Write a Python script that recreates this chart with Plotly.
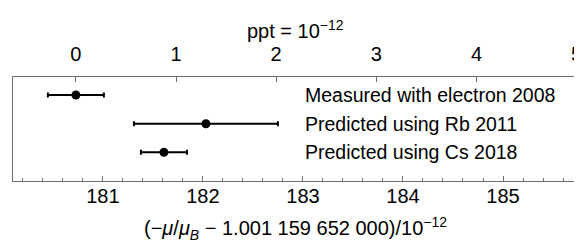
import plotly.graph_objects as go

# Data
labels = ["Measured with electron 2008", "Predicted using Rb 2011", "Predicted using Cs 2018"]
values = [180.73, 182.03, 181.61]          # (-mu/mu_B - 1.001 159 652 000)/1e-12
errors = [0.28, 0.72, 0.23]
rows = [3, 2, 1]
bottom_ticks = [181, 182, 183, 184, 185]
top_ticks = [0, 1, 2, 3, 4, 5]
minor_ticks = [180.2, 180.4, 180.6, 180.8, 181.2, 181.4, 181.6, 181.8, 182.2, 182.4, 182.6, 182.8,
               183.2, 183.4, 183.6, 183.8, 184.2, 184.4, 184.6, 184.8, 185.2, 185.4, 185.6]

ref = values[0]
ppt_unit = 1.00115965  # 1 ppt in units of 1e-12 of mu/mu_B
top_range = [-0.628, 5.004]
bottom_range = [ref + ppt_unit * top_range[0], ref + ppt_unit * top_range[1]]

# page body has an 8px margin; figure sized to fill the rest of the 582x240 window
W, H = 574, 232
ML, MR, MT, MB = 5, 0, 69, 59
FONT = "Liberation Sans, Arial, Helvetica, sans-serif"
AXC = "#6e6e6e"

fig = go.Figure()
fig.add_trace(go.Scatter(
    x=values, y=rows, mode="markers",
    marker=dict(color="black", size=9),
    error_x=dict(type="data", array=errors, visible=True, color="black", thickness=2, width=2.5),
    showlegend=False, xaxis="x", yaxis="y", cliponaxis=False,
))
# invisible trace to activate top axis
fig.add_trace(go.Scatter(x=top_range, y=[0, 0], mode="markers", marker=dict(opacity=0),
                         showlegend=False, xaxis="x2", yaxis="y", hoverinfo="skip"))

for lab, r in zip(labels, rows):
    fig.add_annotation(x=183.0, y=r, xref="x", yref="y", text=lab, showarrow=False,
                       xanchor="left", yanchor="middle",
                       font=dict(family=FONT, size=19.5, color="black"))

fig.add_annotation(x=0.5, y=1, xref="paper", yref="paper", yshift=33, text="ppt = 10<sup>\u221212</sup>",
                   showarrow=False, xanchor="center", yanchor="bottom",
                   font=dict(family=FONT, size=20, color="black"))
fig.add_annotation(x=0.5, y=0, xref="paper", yref="paper", yshift=-31,
                   text="(\u2212<i>\u03bc</i>/<i>\u03bc<sub>B</sub></i> \u2212 1.001 159 652 000)/10<sup>\u221212</sup>",
                   showarrow=False, xanchor="center", yanchor="top",
                   font=dict(family=FONT, size=20, color="black"))

fig.update_layout(
    width=W, height=H, autosize=False,
    margin=dict(l=ML, r=MR, t=MT, b=MB, pad=0),
    plot_bgcolor="white", paper_bgcolor="white",
    font=dict(family=FONT, size=20, color="black"),
    xaxis=dict(range=bottom_range, tickvals=bottom_ticks, ticks="inside", ticklen=5, tickwidth=1,
               tickcolor=AXC, showline=True, linecolor=AXC, linewidth=1, showgrid=False, zeroline=False,
               tickfont=dict(family=FONT, size=20, color="black"), ticklabelstandoff=-3,
               minor=dict(tickvals=minor_ticks, ticks="inside", ticklen=3, tickcolor=AXC, showgrid=False)),
    xaxis2=dict(range=top_range, tickvals=top_ticks, overlaying="x", side="top", anchor="y",
                ticks="inside", ticklen=5, tickwidth=1, tickcolor=AXC, showline=True, linecolor=AXC,
                linewidth=1, showgrid=False, zeroline=False, ticklabelstandoff=7,
                ticklabeloverflow="allow",
                tickfont=dict(family=FONT, size=20, color="black")),
    yaxis=dict(range=[0, 3.63], showticklabels=False, ticks="", showline=True, linecolor=AXC,
               linewidth=1, showgrid=False, zeroline=False),
)

fig.write_html("out.html")
